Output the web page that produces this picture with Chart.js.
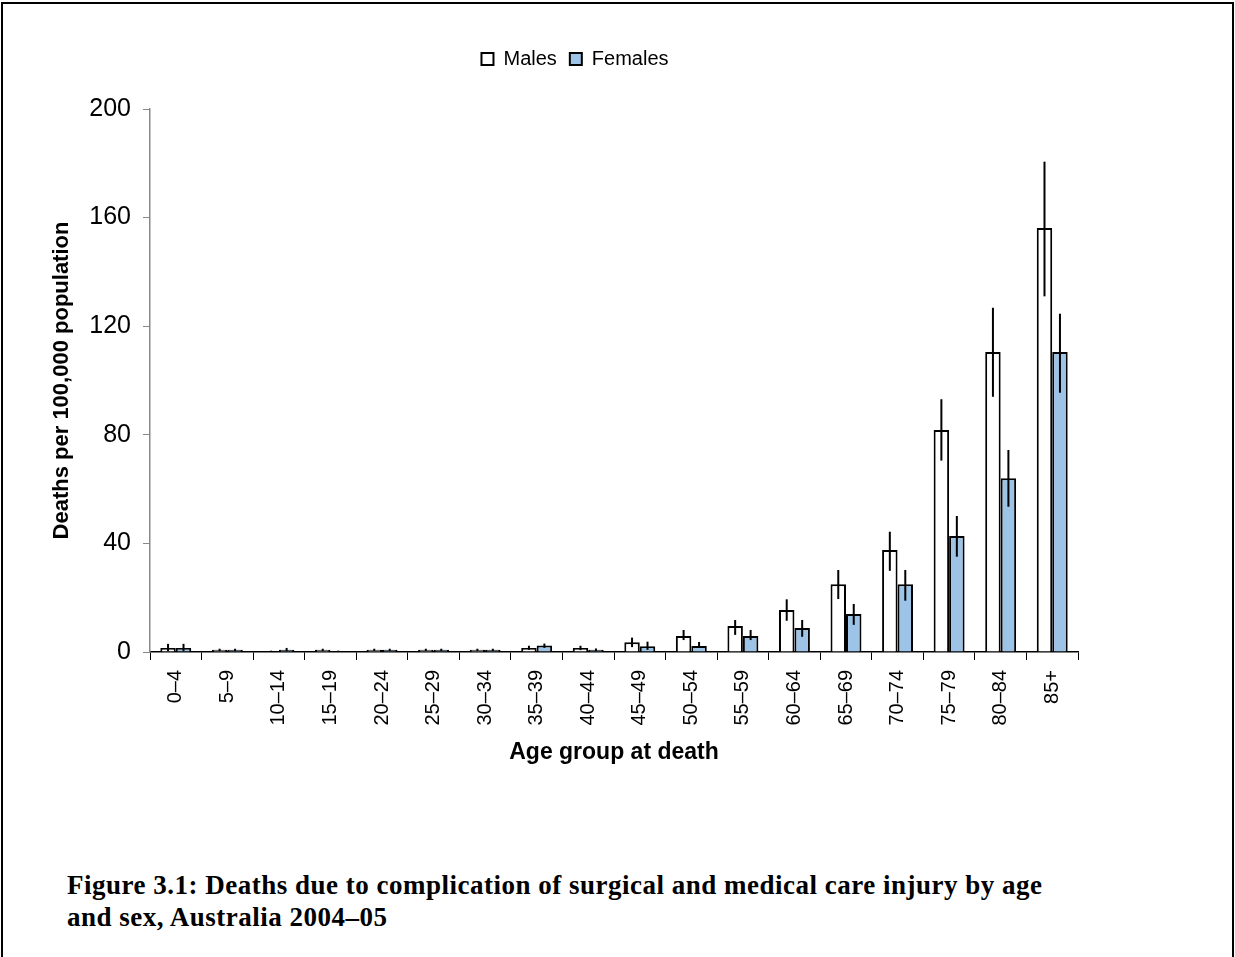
<!DOCTYPE html>
<html lang="en">
<head>
  <meta charset="UTF-8" />
  <title>Deaths due to complication of surgical and medical care injury</title>
  <script src="https://cdn.jsdelivr.net/npm/chart.js"></script>
  <style>
    body { margin: 0; background: #fff; }
    #page { position: relative; width: 1235px; height: 957px; overflow: hidden; }
    #frame { position: absolute; left: 1px; top: 2px; width: 1229px; height: 970px; border: 2px solid #000; }
    #chartBox { position: absolute; left: 0; top: 0; width: 1146px; height: 800px; }
    #caption {
      position: absolute; left: 67px; top: 869px; width: 1150px; white-space: nowrap;
      font-family: "Liberation Serif", serif; font-weight: bold; font-size: 27px; letter-spacing: 0.5px;
      line-height: 32px; color: #000;
    }
  </style>
</head>
<body>
  <div id="page">
    <div id="frame"></div>
    <div id="chartBox"><canvas id="chart"></canvas></div>
    <div id="caption">Figure 3.1: Deaths due to complication of surgical and medical care injury by age<br>and sex, Australia 2004–05</div>
  </div>

  <script>
    // age groups
    const ageGroups = ["0–4", "5–9", "10–14", "15–19", "20–24", "25–29", "30–34", "35–39", "40–44",
      "45–49", "50–54", "55–59", "60–64", "65–69", "70–74", "75–79", "80–84", "85+"];

    // rates per 100,000
    const males = [1.5, 0.8, 0.2, 0.8, 0.8, 0.8, 0.8, 1.5, 1.5, 3.6, 5.9, 9.6, 15.5, 25, 37.6, 81.8, 110.5, 156.2];
    const females = [1.5, 0.8, 0.8, 0.2, 0.8, 0.8, 0.8, 2.4, 0.8, 2.1, 2.2, 5.9, 8.8, 14, 25, 42.7, 64, 110.5];

    // confidence intervals
    const maleLow = [0.3, 0.3, 0, 0.3, 0.4, 0.4, 0.4, 0.8, 0.7, 1.8, 4.4, 6.3, 11.5, 19.5, 29.9, 70.5, 94, 131];
    const maleHigh = [3.0, 1.2, 0.5, 1.2, 1.2, 1.2, 1.2, 2.3, 2.3, 5.3, 8.1, 11.8, 19.4, 30.2, 44.3, 93.1, 126.8, 180.6];
    const femaleLow = [0.3, 0.3, 0.3, 0, 0.4, 0.4, 0.4, 1.5, 0.3, 0.8, 1.5, 4.4, 5.6, 10, 18.9, 35.1, 53.5, 95.5];
    const femaleHigh = [3.0, 1.2, 1.5, 0.5, 1.2, 1.2, 1.2, 3.1, 1.3, 3.8, 3.7, 8.1, 11.8, 17.7, 30.2, 50.1, 74.4, 124.6];

    const yTicks = [0, 40, 80, 120, 160, 200];

    const errorBars = {
      id: 'errorBars',
      beforeLayout(chart) {
        // leave room under the legend like the original
        const lg = chart.legend;
        if (lg && !lg._tall) {
          const fit = lg.fit.bind(lg);
          lg.fit = function () { fit(); this.height = 73; };
          lg._tall = true;
        }
      },
      afterDatasetsDraw(chart) {
        const ctx = chart.ctx;
        const y = chart.scales.y;
        const ranges = [[maleLow, maleHigh], [femaleLow, femaleHigh]];
        ctx.save();
        ctx.strokeStyle = '#000';
        ctx.lineWidth = 2;
        ranges.forEach((r, i) => {
          chart.getDatasetMeta(i).data.forEach((bar, j) => {
            ctx.beginPath();
            ctx.moveTo(bar.x, y.getPixelForValue(r[0][j]));
            ctx.lineTo(bar.x, y.getPixelForValue(r[1][j]));
            ctx.stroke();
          });
        });
        ctx.restore();
      }
    };

    new Chart(document.getElementById('chart'), {
      type: 'bar',
      data: {
        labels: ageGroups,
        datasets: [
          { label: 'Males', data: males, backgroundColor: '#ffffff', borderColor: '#000', borderWidth: 2 },
          { label: 'Females', data: females, backgroundColor: '#9dc3e6', borderColor: '#000', borderWidth: 2 }
        ]
      },
      options: {
        responsive: true,
        maintainAspectRatio: false,
        animation: false,
        categoryPercentage: 0.6,
        barPercentage: 1.0,
        layout: { padding: { top: 36, right: 68, bottom: 34, left: 72 } },
        plugins: {
          legend: {
            labels: {
              boxWidth: 12, boxHeight: 12, padding: 13, color: '#000',
              font: { family: 'Liberation Sans', size: 20 }
            }
          },
          tooltip: { enabled: false }
        },
        scales: {
          x: {
            grid: { drawOnChartArea: false, drawTicks: true, tickLength: 8, color: '#000', offset: true },
            border: { color: '#000', width: 1.5 },
            ticks: {
              autoSkip: false, maxRotation: 90, minRotation: 90, padding: 10, color: '#000',
              font: { family: 'Liberation Sans', size: 20 }
            },
            title: {
              display: true, text: 'Age group at death', color: '#000',
              font: { family: 'Liberation Sans', size: 23, weight: 'bold' },
              padding: { top: 0, bottom: 0 }
            },
            afterFit(scale) { scale.height = 114; }
          },
          y: {
            min: 0, max: 200,
            afterBuildTicks(scale) { scale.ticks = yTicks.map(v => ({ value: v })); },
            grid: { drawOnChartArea: false, drawTicks: true, tickLength: 7, color: '#888' },
            border: { color: '#888', width: 1.5 },
            ticks: {
              padding: 12, color: '#000',
              font: { family: 'Liberation Sans', size: 25 }
            },
            title: {
              display: true, text: 'Deaths per 100,000 population', color: '#000',
              font: { family: 'Liberation Sans', size: 22, weight: 'bold' },
              padding: { top: -23, bottom: 0 }
            },
            afterFit(scale) { scale.width = 78; }
          }
        }
      },
      plugins: [errorBars]
    });
  </script>
</body>
</html>
